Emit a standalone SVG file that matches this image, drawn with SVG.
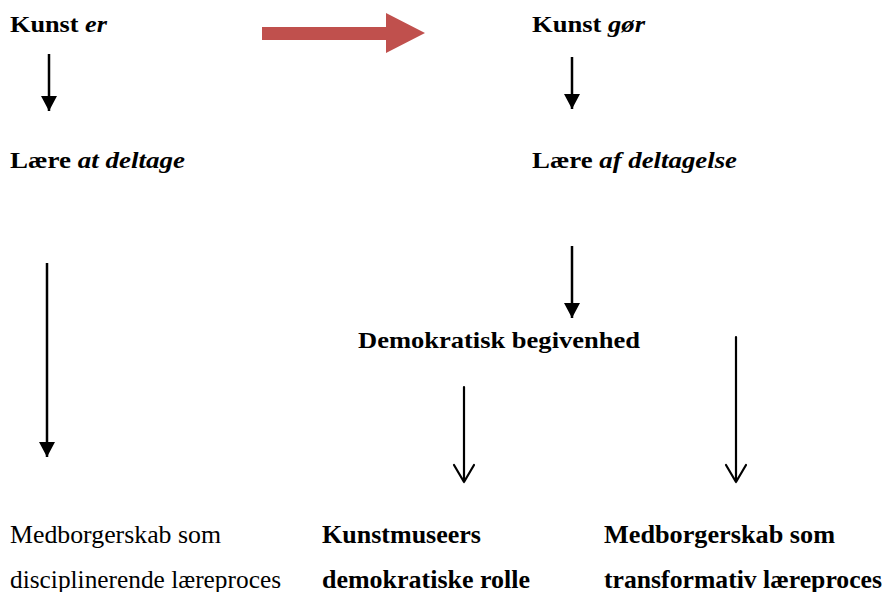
<svg xmlns="http://www.w3.org/2000/svg" width="884" height="592" viewBox="0 0 884 592">
<style>
  .t { font-family: "Liberation Serif", "DejaVu Serif", serif; font-size: 24px; fill: #000; }
  .s { font-size: 25px; }
  .b { font-weight: bold; }
  .i { font-style: italic; }
  .ln { stroke: #000; stroke-width: 2.5; fill: none; }
  .open { stroke: #000; stroke-width: 2.2; fill: none; stroke-linecap: round; stroke-linejoin: round; }
</style>
<defs>
  <marker id="solid" markerUnits="userSpaceOnUse" markerWidth="16" markerHeight="16" refX="15" refY="8" orient="auto">
    <path d="M0,0 L15,8 L0,16 Z" fill="#000"/>
  </marker>
</defs>
<rect width="884" height="592" fill="#fff"/>

<g id="connectors">
  <polygon id="shift" points="262,27 386,27 386,13 425,33 386,53 386,40 262,40" fill="#C0504D"/>
  <line class="ln" x1="49" y1="54" x2="49" y2="111" marker-end="url(#solid)"/>
  <line class="ln" x1="572" y1="57" x2="572" y2="109" marker-end="url(#solid)"/>
  <line class="ln" x1="47" y1="263" x2="47" y2="457" marker-end="url(#solid)"/>
  <line class="ln" x1="572" y1="246" x2="572" y2="318" marker-end="url(#solid)"/>
  <path class="open" d="M464,387 L464,482 M454,465 L464,482 L474,465"/>
  <path class="open" d="M736,337 L736,482 M726,465 L736,482 L746,465"/>
</g>

<g id="kunst-er">
  <text class="t b" x="10" y="32" textLength="97" lengthAdjust="spacingAndGlyphs">Kunst <tspan class="i">er</tspan></text>
</g>
<g id="kunst-gor">
  <text class="t b" x="532" y="32" textLength="113" lengthAdjust="spacingAndGlyphs">Kunst <tspan class="i">gør</tspan></text>
</g>
<g id="laere-at-deltage">
  <text class="t b" x="10" y="168" textLength="175" lengthAdjust="spacingAndGlyphs">Lære <tspan class="i">at deltage</tspan></text>
</g>
<g id="laere-af-deltagelse">
  <text class="t b" x="532" y="168" textLength="205" lengthAdjust="spacingAndGlyphs">Lære <tspan class="i">af deltagelse</tspan></text>
</g>
<g id="demokratisk-begivenhed">
  <text class="t b" x="358" y="348" textLength="282" lengthAdjust="spacingAndGlyphs">Demokratisk begivenhed</text>
</g>
<g id="disciplinerende">
  <text class="t s" x="10" y="543" textLength="211" lengthAdjust="spacingAndGlyphs">Medborgerskab som</text>
  <text class="t s" x="10" y="588" textLength="271" lengthAdjust="spacingAndGlyphs">disciplinerende læreproces</text>
</g>
<g id="kunstmuseers">
  <text class="t s b" x="322" y="543" textLength="159" lengthAdjust="spacingAndGlyphs">Kunstmuseers</text>
  <text class="t s b" x="322" y="588" textLength="208" lengthAdjust="spacingAndGlyphs">demokratiske rolle</text>
</g>
<g id="transformativ">
  <text class="t s b" x="604" y="543" textLength="231" lengthAdjust="spacingAndGlyphs">Medborgerskab som</text>
  <text class="t s b" x="604" y="588" textLength="278" lengthAdjust="spacingAndGlyphs">transformativ læreproces</text>
</g>
</svg>
